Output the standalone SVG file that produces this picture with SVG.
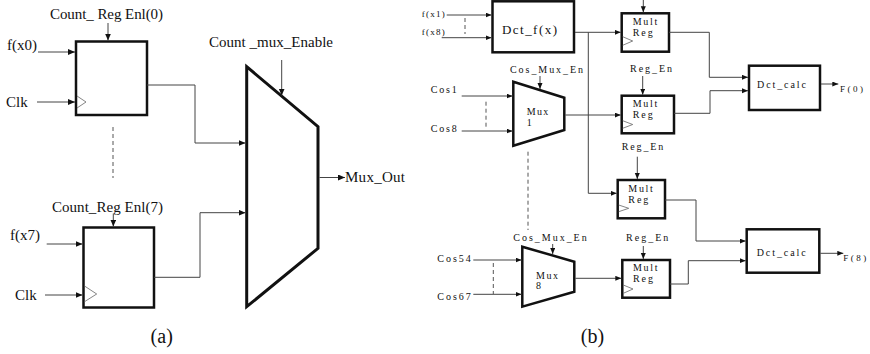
<svg xmlns="http://www.w3.org/2000/svg" width="870" height="354" viewBox="0 0 870 354">
<defs>
<marker id="ah" markerUnits="userSpaceOnUse" markerWidth="8" markerHeight="7" refX="7" refY="3" orient="auto"><path d="M0,0 L7,3 L0,6 z" fill="#111"/></marker>
<marker id="as" markerUnits="userSpaceOnUse" markerWidth="7" markerHeight="6" refX="6" refY="2.5" orient="auto"><path d="M0,0 L6,2.5 L0,5 z" fill="#111"/></marker>
</defs>
<style>
text{font-family:"Liberation Serif","DejaVu Serif","Times New Roman",serif;fill:#111}
.a{font-size:15px}
.b{font-size:10px}
.s{font-size:9px}
.m{font-size:10px}
.box{fill:#fff;stroke:#111;stroke-width:2.5}
.wa{fill:none;stroke:#444;stroke-width:1;marker-end:url(#ah)}
.wb{fill:none;stroke:#444;stroke-width:1;marker-end:url(#as)}
.clk{fill:none;stroke:#666;stroke-width:0.8}
.dash{fill:none;stroke:#555;stroke-width:1;stroke-dasharray:4 3}
</style>
<rect width="870" height="354" fill="#fff"/>

<!-- Part (a) -->
<g id="reg0">
<rect class="box" x="76" y="41.5" width="71" height="73.5"/>
<polyline class="clk" points="77,96 86,102 77,108"/>
<text class="a" x="50" y="19" textLength="113">Count_ Reg Enl(0)</text>
<text class="a" x="7" y="50">f(x0)</text>
<text class="a" x="6" y="107">Clk</text>
</g>
<g id="reg7">
<rect class="box" x="83.5" y="227.5" width="70.5" height="80"/>
<polyline class="clk" points="84.5,286 96.7,294 84.5,301.7"/>
<text class="a" x="52" y="211.5" textLength="111">Count_Reg Enl(7)</text>
<text class="a" x="10" y="240">f(x7)</text>
<text class="a" x="15" y="300">Clk</text>
</g>
<g id="mux_a">
<polygon points="246.7,66.7 318,126.7 318,248.3 246.7,306.7" fill="#fff" stroke="#111" stroke-width="3"/>
<text class="a" x="209" y="47" textLength="124">Count _mux_Enable</text>
<text class="a" x="345" y="182" textLength="60">Mux_Out</text>
</g>
<text x="161.7" y="343" font-size="20" text-anchor="middle">(a)</text>

<!-- Part (b) -->
<g id="dct_fx">
<rect class="box" x="492.5" y="1.3" width="81.5" height="51"/>
<text x="502" y="34" font-size="13" textLength="55">Dct_f(x)</text>
<text class="s" x="421.7" y="17" textLength="23">f(x1)</text>
<text class="s" x="421.7" y="35" textLength="23">f(x8)</text>
</g>
<g id="multreg1">
<rect class="box" x="621.7" y="13.3" width="47.3" height="38.4"/>
<polyline class="clk" points="622.7,36.7 632.7,41 622.7,45.3"/>
<text class="m" x="632.7" y="25" textLength="24.5">Mult</text>
<text class="m" x="632.7" y="36" textLength="20">Reg</text>
</g>
<g id="mux1">
<polygon points="513.3,81.7 564.3,97.7 564.3,130 513.3,145.7" fill="#fff" stroke="#111" stroke-width="2.5"/>
<text class="m" x="526.7" y="115" textLength="21.5">Mux</text>
<text class="m" x="526.7" y="125.5">1</text>
<text class="b" x="510" y="72.7" textLength="73">Cos_Mux_En</text>
<text class="b" x="430.7" y="92.5" textLength="26">Cos1</text>
<text class="b" x="430.7" y="131.5" textLength="26">Cos8</text>
</g>
<g id="multreg2">
<rect class="box" x="621.7" y="95.7" width="52.3" height="37.6"/>
<polyline class="clk" points="622.7,120.7 632.7,124.5 622.7,128.3"/>
<text class="m" x="632.7" y="106.7" textLength="24.5">Mult</text>
<text class="m" x="632.7" y="118.3" textLength="20">Reg</text>
<text class="b" x="630" y="71.7" textLength="42">Reg_En</text>
</g>
<g id="dct_calc0">
<rect class="box" x="749" y="65.7" width="71" height="44.3"/>
<text class="b" x="757" y="88.3" textLength="49">Dct_calc</text>
<text class="s" x="840" y="91.7" textLength="23">F(0)</text>
</g>
<g id="multreg3">
<rect class="box" x="617.7" y="180" width="47.3" height="38.3"/>
<polyline class="clk" points="618.7,205 628.7,208.3 618.7,211.7"/>
<text class="m" x="628.3" y="191.7" textLength="24.5">Mult</text>
<text class="m" x="628.3" y="203.3" textLength="20">Reg</text>
<text class="b" x="621.7" y="150" textLength="41.6">Reg_En</text>
</g>
<g id="mux8">
<polygon points="522.3,246.7 574.3,261.7 574.3,291.7 522.3,306.7" fill="#fff" stroke="#111" stroke-width="2.5"/>
<text class="m" x="536" y="279" textLength="22">Mux</text>
<text class="m" x="536" y="288.8">8</text>
<text class="b" x="513.3" y="240.7" textLength="73.4">Cos_Mux_En</text>
<text class="b" x="437.3" y="261.5" textLength="33.4">Cos54</text>
<text class="b" x="437.3" y="300" textLength="33.4">Cos67</text>
</g>
<g id="multreg4">
<rect class="box" x="622.3" y="260" width="47.7" height="37.7"/>
<polyline class="clk" points="623.3,285 633,289 623.3,293.3"/>
<text class="m" x="633" y="271" textLength="24.5">Mult</text>
<text class="m" x="633" y="282.3" textLength="20">Reg</text>
<text class="b" x="626" y="240.7" textLength="42.3">Reg_En</text>
</g>
<g id="dct_calc8">
<rect class="box" x="746.7" y="229.3" width="72.6" height="43.4"/>
<text class="b" x="756.7" y="256" textLength="49">Dct_calc</text>
<text class="s" x="843.3" y="260.7" textLength="23">F(8)</text>
</g>
<text x="592.5" y="343" font-size="20" text-anchor="middle">(b)</text>

<g id="connectors">
<!-- (a) -->
<line class="wa" x1="108" y1="23" x2="108" y2="40.5"/>
<line class="wa" x1="38" y1="52" x2="75" y2="52"/>
<line class="wa" x1="37" y1="102" x2="75" y2="102"/>
<path class="wa" d="M147,85 H195 V143 H245.5"/>
<line class="dash" x1="113" y1="127" x2="113" y2="178"/>
<line class="wa" x1="113.3" y1="213.5" x2="113.3" y2="226.5"/>
<line class="wa" x1="46.7" y1="244" x2="82.5" y2="244"/>
<line class="wa" x1="45" y1="295" x2="82.5" y2="295"/>
<path class="wa" d="M154,277.3 H200 V212.7 H245.5"/>
<line class="wa" x1="281.7" y1="60" x2="281.7" y2="95.5"/>
<line class="wa" x1="319.5" y1="177.5" x2="345" y2="177.5"/>
<!-- (b) -->
<line class="wb" x1="446.7" y1="15" x2="491.5" y2="15"/>
<line class="wb" x1="441.7" y1="37.7" x2="491.5" y2="37.7"/>
<line class="dash" x1="465" y1="18" x2="465" y2="34"/>
<line class="wb" x1="575" y1="32.3" x2="620.7" y2="32.3"/>
<path class="wb" d="M588.3,32.3 V193.3 H616.7"/>
<line class="wb" x1="643.3" y1="0" x2="643.3" y2="12.3"/>
<path class="wb" d="M669,32.3 H709.3 V77.3 H748"/>
<line class="wb" x1="642.7" y1="76" x2="642.7" y2="94.7"/>
<line class="wb" x1="540" y1="76" x2="540" y2="89"/>
<line class="wb" x1="461.7" y1="96" x2="512.5" y2="96"/>
<line class="wb" x1="461.7" y1="131" x2="512.5" y2="131"/>
<line class="dash" x1="486" y1="101.7" x2="486" y2="126.7"/>
<line class="wb" x1="565.3" y1="115" x2="620.7" y2="115"/>
<path class="wb" d="M674,113.3 H710 V90.7 H748"/>
<line class="wb" x1="821" y1="84" x2="838.3" y2="84"/>
<line class="dash" x1="528" y1="151.7" x2="528" y2="230"/>
<line class="wb" x1="637.3" y1="156.7" x2="637.3" y2="179"/>
<path class="wb" d="M665,200 H696 V241 H745.7"/>
<line class="wb" x1="820.3" y1="253.3" x2="843.3" y2="253.3"/>
<line class="wb" x1="552.7" y1="244" x2="552.7" y2="254"/>
<line class="wb" x1="473.3" y1="260" x2="521.5" y2="260"/>
<line class="wb" x1="473.3" y1="294.3" x2="521.5" y2="294.3"/>
<line class="dash" x1="493.3" y1="263" x2="493.3" y2="294"/>
<line class="wb" x1="575.3" y1="278.3" x2="621.3" y2="278.3"/>
<line class="wb" x1="643.3" y1="246" x2="643.3" y2="259"/>
<path class="wb" d="M670,284 H688.3 V260.7 H745.7"/>
</g>
</svg>
